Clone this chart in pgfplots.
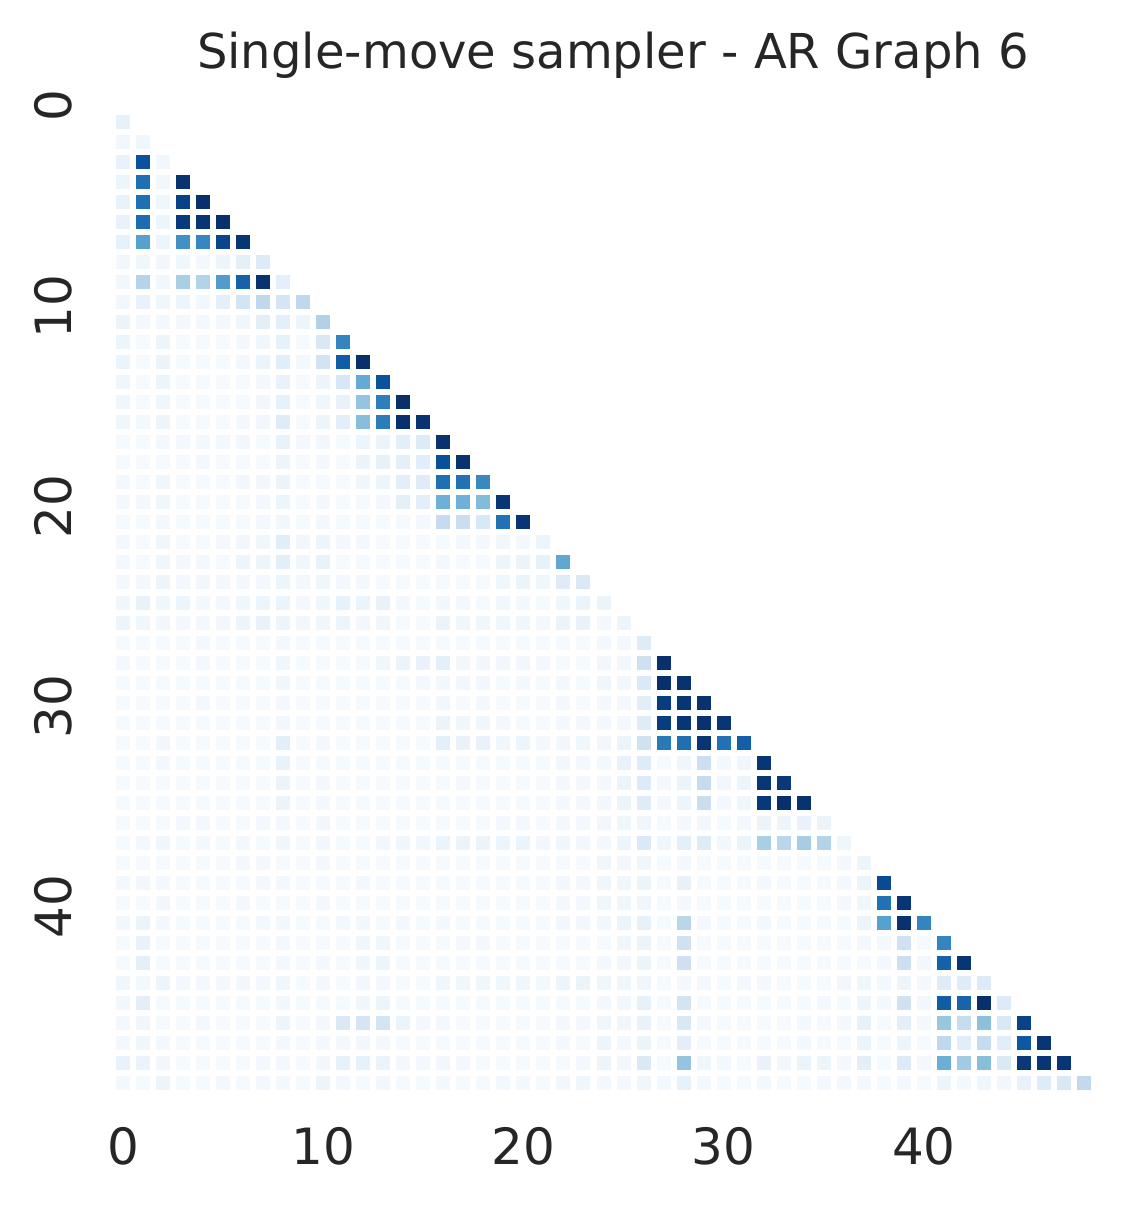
\documentclass[border=0pt]{standalone}
\usepackage{fontspec}
\setmainfont{DejaVu Sans}
\usepackage{pgfplots}
\pgfplotsset{compat=1.18}
\definecolor{inkgrey}{HTML}{262626}
% one row of the triangle: values are percent of the colour range, column 0 first
\newcommand{\heatrow}[2]{%
  \addplot[only marks, scatter, scatter src=explicit, mark=square*, mark size=2.32pt,
    line width=0.4pt,
    scatter/use mapped color={draw=mapped color,fill=mapped color}]
    table[row sep=\\, x expr=\coordindex, y expr=#1, meta=v] {v\\#2};
}
\begin{document}
% 1 px of the reference = 0.36pt
\begin{tikzpicture}
\path[use as bounding box] (-40.68pt,-40.68pt) rectangle (371.16pt,393.48pt);
\begin{axis}[
  scale only axis,
  width=353.16pt,
  height=353.16pt,
  xmin=-0.5, xmax=48.5,
  ymin=-0.5, ymax=48.5,
  y dir=reverse,
  clip=false,
  axis line style={draw=none},
  tick style={draw=none},
  major tick length=0pt,
  xtick={0,10,20,30,40},
  ytick={0,10,20,30,40},
  xticklabels={0,10,20,30,40},
  yticklabels={0,10,20,30,40},
  xticklabel pos=bottom,
  ticklabel style={font=\fontsize{18}{22}\selectfont,text=inkgrey},
  xticklabel style={yshift=-9pt},
  yticklabel style={yshift=5.76pt,xshift=-11.2pt,rotate=90,anchor=south},
  title={Single-move sampler - AR Graph 6},
  title style={font=\fontsize{17.3}{21}\selectfont,text=inkgrey,xshift=3.4pt,yshift=2.6pt},
  colormap={blues}{rgb255=(247,251,255) rgb255=(222,235,247) rgb255=(198,219,239)
    rgb255=(158,202,225) rgb255=(107,174,214) rgb255=(66,146,198)
    rgb255=(33,113,181) rgb255=(8,81,156) rgb255=(8,48,107)},
  point meta min=0, point meta max=100,
]
\heatrow{0}{8\\}
\heatrow{1}{3\\4\\}
\heatrow{2}{7\\87\\3\\}
\heatrow{3}{5\\76\\3\\99\\}
\heatrow{4}{7\\76\\4\\93\\100\\}
\heatrow{5}{7\\77\\5\\96\\98\\100\\}
\heatrow{6}{8\\56\\5\\63\\67\\92\\98\\}
\heatrow{7}{3\\4\\3\\4\\2\\5\\9\\13\\}
\heatrow{8}{3\\30\\3\\34\\31\\58\\81\\99\\9\\}
\heatrow{9}{3\\7\\4\\5\\3\\9\\18\\27\\17\\27\\}
\heatrow{10}{6\\2\\2\\2\\2\\2\\4\\10\\9\\5\\32\\}
\heatrow{11}{5\\1\\5\\1\\1\\1\\2\\4\\8\\1\\15\\68\\}
\heatrow{12}{6\\1\\6\\1\\1\\1\\2\\6\\11\\2\\19\\83\\100\\}
\heatrow{13}{4\\1\\5\\1\\1\\1\\1\\2\\7\\1\\5\\16\\52\\87\\}
\heatrow{14}{4\\1\\4\\1\\1\\1\\1\\3\\8\\1\\4\\7\\40\\70\\100\\}
\heatrow{15}{4\\2\\5\\1\\1\\1\\2\\3\\12\\1\\5\\10\\43\\71\\100\\99\\}
\heatrow{16}{1\\1\\2\\2\\2\\2\\3\\1\\7\\2\\3\\1\\5\\6\\10\\13\\99\\}
\heatrow{17}{1\\1\\1\\1\\2\\1\\1\\1\\5\\1\\2\\1\\6\\8\\9\\11\\88\\99\\}
\heatrow{18}{2\\1\\4\\1\\1\\1\\3\\3\\6\\1\\1\\1\\4\\5\\10\\12\\76\\75\\66\\}
\heatrow{19}{2\\2\\4\\1\\1\\1\\1\\2\\5\\1\\2\\1\\1\\2\\9\\10\\49\\49\\44\\98\\}
\heatrow{20}{1\\1\\2\\1\\1\\1\\1\\2\\3\\1\\2\\1\\1\\1\\1\\2\\25\\23\\15\\75\\98\\}
\heatrow{21}{2\\1\\4\\1\\1\\2\\3\\4\\11\\3\\5\\2\\2\\1\\1\\1\\1\\2\\2\\3\\2\\5\\}
\heatrow{22}{2\\1\\4\\2\\2\\1\\5\\5\\10\\4\\7\\1\\1\\1\\1\\1\\2\\1\\1\\5\\6\\8\\53\\}
\heatrow{23}{2\\2\\5\\2\\3\\2\\2\\2\\5\\2\\4\\2\\2\\1\\1\\1\\1\\1\\1\\4\\6\\4\\12\\14\\}
\heatrow{24}{4\\7\\4\\5\\2\\2\\4\\5\\6\\2\\4\\8\\6\\7\\2\\1\\3\\2\\1\\3\\2\\1\\4\\6\\6\\}
\heatrow{25}{5\\4\\3\\2\\2\\3\\5\\7\\5\\3\\4\\5\\3\\4\\1\\1\\6\\4\\4\\4\\4\\2\\6\\7\\2\\5\\}
\heatrow{26}{1\\1\\1\\1\\2\\1\\1\\1\\2\\1\\1\\1\\1\\1\\1\\1\\1\\1\\1\\1\\1\\1\\1\\1\\2\\2\\12\\}
\heatrow{27}{2\\1\\1\\1\\2\\1\\1\\1\\4\\1\\1\\1\\1\\4\\6\\7\\9\\3\\3\\3\\3\\2\\1\\1\\3\\3\\21\\100\\}
\heatrow{28}{1\\1\\1\\1\\1\\1\\1\\1\\4\\1\\1\\1\\1\\1\\1\\2\\3\\3\\3\\1\\2\\1\\2\\1\\4\\3\\14\\100\\99\\}
\heatrow{29}{1\\1\\1\\1\\2\\1\\1\\1\\2\\1\\1\\1\\1\\1\\1\\1\\3\\1\\2\\1\\1\\1\\2\\1\\2\\2\\11\\95\\98\\99\\}
\heatrow{30}{1\\1\\1\\1\\1\\1\\1\\1\\3\\1\\1\\1\\1\\1\\1\\1\\6\\4\\4\\2\\1\\1\\2\\2\\2\\2\\12\\95\\98\\99\\98\\}
\heatrow{31}{1\\1\\3\\1\\1\\1\\1\\1\\10\\1\\2\\1\\1\\1\\1\\1\\9\\7\\7\\4\\5\\2\\3\\4\\3\\6\\20\\72\\76\\98\\75\\82\\}
\heatrow{32}{1\\1\\2\\1\\1\\1\\1\\1\\7\\1\\1\\1\\1\\1\\1\\1\\1\\1\\1\\1\\1\\1\\3\\2\\2\\7\\12\\1\\4\\22\\2\\4\\98\\}
\heatrow{33}{1\\1\\1\\1\\1\\1\\1\\1\\6\\1\\2\\1\\1\\1\\1\\1\\1\\2\\1\\1\\1\\1\\2\\2\\2\\6\\13\\2\\6\\25\\3\\5\\98\\97\\}
\heatrow{34}{1\\1\\1\\1\\1\\1\\1\\1\\6\\1\\2\\1\\1\\1\\1\\1\\1\\1\\1\\1\\1\\1\\2\\2\\3\\6\\12\\2\\5\\23\\2\\4\\97\\100\\99\\}
\heatrow{35}{1\\1\\1\\2\\2\\1\\1\\2\\2\\1\\3\\1\\1\\1\\1\\1\\1\\1\\1\\2\\2\\1\\2\\2\\3\\4\\4\\1\\2\\3\\1\\2\\6\\5\\7\\6\\}
\heatrow{36}{1\\2\\4\\1\\2\\1\\2\\1\\4\\1\\3\\1\\1\\3\\4\\3\\6\\6\\6\\5\\6\\3\\4\\3\\2\\5\\14\\4\\9\\12\\3\\6\\34\\29\\35\\31\\4\\}
\heatrow{37}{1\\1\\1\\1\\1\\1\\2\\2\\1\\1\\2\\1\\1\\1\\1\\1\\1\\1\\1\\1\\1\\1\\1\\1\\4\\3\\4\\1\\2\\1\\1\\1\\1\\1\\1\\1\\2\\5\\}
\heatrow{38}{2\\3\\2\\1\\1\\1\\1\\2\\2\\1\\1\\1\\2\\1\\1\\1\\1\\1\\1\\1\\1\\1\\3\\2\\4\\4\\6\\1\\8\\1\\1\\1\\2\\1\\1\\1\\2\\6\\90\\}
\heatrow{39}{1\\1\\3\\1\\1\\1\\2\\1\\1\\1\\2\\1\\1\\1\\1\\1\\1\\1\\1\\1\\1\\1\\2\\2\\4\\4\\4\\1\\2\\1\\1\\1\\1\\1\\1\\1\\2\\4\\75\\98\\}
\heatrow{40}{3\\6\\2\\1\\1\\1\\1\\2\\3\\1\\1\\2\\3\\1\\2\\1\\2\\1\\1\\1\\1\\1\\3\\3\\3\\6\\8\\1\\29\\2\\1\\1\\2\\1\\1\\1\\1\\6\\56\\99\\68\\}
\heatrow{41}{1\\7\\1\\1\\1\\1\\1\\1\\2\\1\\1\\1\\4\\4\\1\\1\\1\\2\\2\\1\\1\\1\\1\\1\\1\\4\\6\\1\\20\\1\\1\\1\\1\\1\\1\\1\\1\\2\\2\\20\\1\\68\\}
\heatrow{42}{1\\9\\1\\1\\1\\1\\1\\1\\2\\1\\2\\1\\4\\5\\1\\1\\1\\1\\1\\1\\1\\1\\1\\1\\2\\3\\6\\1\\21\\1\\1\\1\\1\\1\\1\\1\\1\\1\\2\\22\\3\\81\\98\\}
\heatrow{43}{4\\2\\5\\2\\2\\2\\3\\2\\4\\1\\2\\1\\3\\2\\1\\1\\4\\4\\4\\4\\4\\2\\5\\6\\4\\4\\4\\1\\2\\2\\1\\2\\2\\1\\1\\1\\3\\4\\2\\5\\2\\12\\12\\13\\}
\heatrow{44}{3\\10\\1\\1\\1\\1\\1\\1\\3\\1\\1\\1\\4\\5\\1\\1\\1\\1\\1\\1\\1\\1\\1\\1\\2\\3\\8\\1\\18\\1\\1\\1\\1\\1\\1\\2\\1\\5\\2\\20\\3\\83\\80\\100\\13\\}
\heatrow{45}{2\\4\\1\\1\\2\\1\\1\\1\\5\\1\\2\\14\\17\\18\\6\\2\\2\\1\\1\\1\\1\\1\\2\\2\\4\\4\\7\\1\\15\\2\\1\\1\\1\\1\\2\\1\\2\\8\\1\\9\\2\\39\\24\\42\\15\\93\\}
\heatrow{46}{2\\4\\2\\1\\1\\1\\1\\1\\2\\1\\2\\2\\3\\2\\1\\1\\1\\1\\1\\1\\1\\1\\2\\1\\5\\2\\6\\1\\10\\1\\1\\1\\1\\1\\2\\1\\1\\6\\1\\5\\1\\27\\11\\25\\11\\85\\98\\}
\heatrow{47}{7\\6\\3\\1\\1\\1\\1\\2\\2\\1\\3\\8\\8\\6\\2\\2\\3\\2\\1\\1\\1\\1\\1\\2\\5\\3\\14\\1\\40\\4\\2\\1\\7\\3\\6\\5\\2\\10\\1\\13\\2\\50\\37\\43\\14\\97\\98\\98\\}
\heatrow{48}{2\\1\\5\\1\\1\\2\\1\\2\\2\\1\\5\\2\\1\\3\\1\\1\\2\\1\\1\\2\\2\\1\\3\\4\\2\\2\\4\\2\\8\\2\\1\\1\\2\\1\\1\\2\\2\\2\\1\\2\\1\\5\\2\\4\\3\\7\\12\\15\\26\\}
\end{axis}
\end{tikzpicture}
\end{document}
